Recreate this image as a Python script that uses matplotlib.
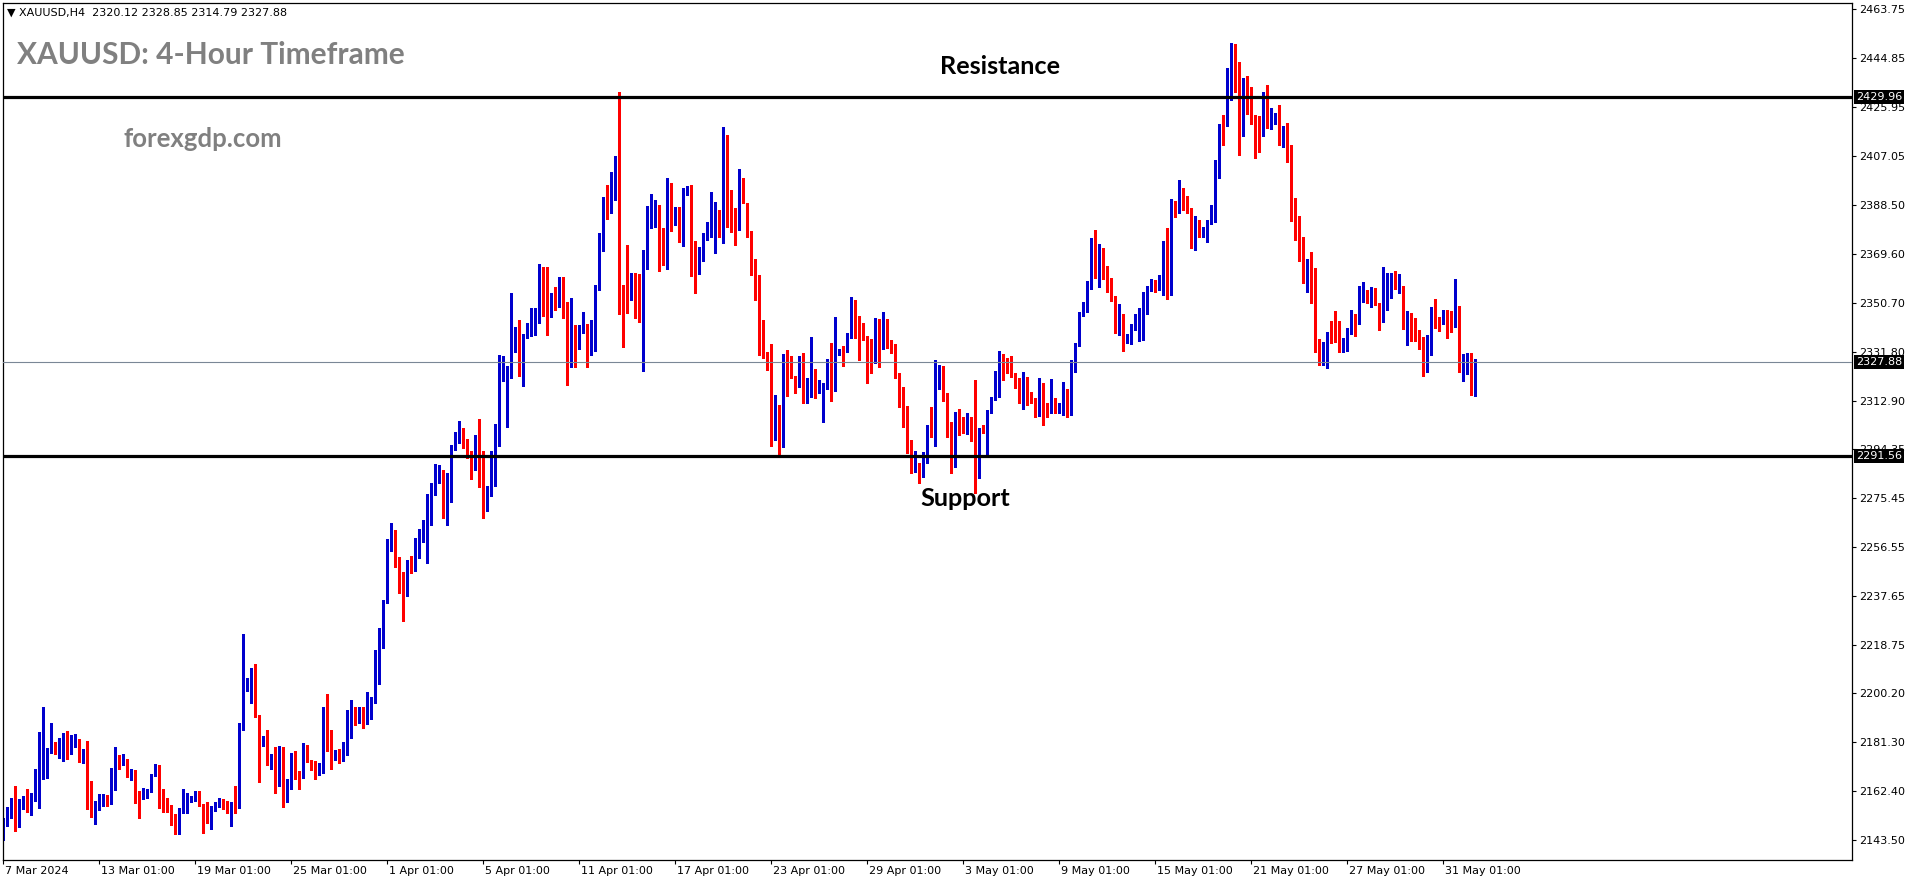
import matplotlib
matplotlib.use('Agg')
import matplotlib.pyplot as plt
import matplotlib.transforms as mtransforms
import numpy as np

# ---- data (XAUUSD H4) ----
opens = [
    2148.6, 2149.7, 2154.8, 2157.4, 2153.2, 2156.1, 2158.9, 2154.8, 2160.5, 2167.9,
    2170.2, 2173.7, 2179.1, 2179.9, 2177.6, 2179.7, 2181.3, 2179.1, 2181.4, 2182.4,
    2175.6, 2176.7, 2160.1, 2154.4, 2157.0, 2157.9, 2159.7, 2157.7, 2165.6, 2174.3,
    2174.1, 2174.3, 2168.2, 2169.8, 2162.0, 2159.4, 2161.6, 2162.1, 2168.6, 2171.7,
    2159.7, 2156.6, 2152.0, 2152.0, 2146.1, 2154.0, 2156.0, 2159.2, 2159.4, 2159.9,
    2157.4, 2152.8, 2150.6, 2156.4, 2157.1, 2158.2, 2157.0, 2154.0, 2157.4, 2156.0,
    2186.3, 2204.3, 2204.2, 2205.2, 2191.7, 2180.8, 2181.3, 2172.9, 2177.7, 2166.0,
    2177.8, 2158.7, 2165.4, 2174.7, 2169.2, 2167.8, 2177.0, 2174.3, 2171.1, 2168.7,
    2172.2, 2190.5, 2182.7, 2176.0, 2177.4, 2174.3, 2176.4, 2188.7, 2193.2, 2189.8,
    2191.9, 2188.5, 2196.8, 2196.8, 2206.5, 2221.4, 2243.7, 2256.5, 2261.5, 2251.7,
    2246.4, 2238.9, 2250.7, 2248.4, 2253.3, 2260.2, 2265.0, 2265.3, 2280.4, 2282.6,
    2286.2, 2271.6, 2275.5, 2294.8, 2299.5, 2301.2, 2295.4, 2293.2, 2287.4, 2294.3,
    2292.0, 2271.6, 2279.7, 2291.6, 2299.3, 2326.0, 2322.1, 2324.1, 2334.7, 2337.8,
    2327.3, 2338.1, 2338.2, 2339.9, 2345.0, 2363.5, 2355.5, 2347.2, 2352.7, 2349.4,
    2357.9, 2347.8, 2334.0, 2337.8, 2333.3, 2340.4, 2342.1, 2330.5, 2343.3, 2356.2,
    2371.0, 2391.1, 2387.7, 2398.5, 2404.9, 2355.5, 2358.4, 2355.5, 2361.3, 2349.8,
    2348.5, 2365.6, 2382.3, 2383.8, 2386.8, 2372.6, 2366.5, 2385.1, 2382.8, 2384.9,
    2377.7, 2392.3, 2393.7, 2372.9, 2362.0, 2367.1, 2377.0, 2379.7, 2379.6, 2385.4,
    2378.7, 2409.9, 2381.9, 2381.5, 2378.7, 2394.1, 2388.8, 2378.3, 2366.1, 2361.3,
    2338.6, 2330.1, 2327.9, 2298.8, 2308.4, 2295.4, 2329.9, 2326.6, 2322.4, 2318.3,
    2328.8, 2315.1, 2321.5, 2324.7, 2316.0, 2319.2, 2319.3, 2325.0, 2318.9, 2332.2,
    2332.8, 2332.2, 2337.8, 2349.8, 2341.7, 2338.9, 2337.6, 2331.2, 2330.3, 2343.6,
    2334.1, 2342.4, 2335.5, 2334.4, 2323.2, 2315.1, 2307.8, 2295.8, 2286.2, 2288.1,
    2287.1, 2291.3, 2303.3, 2299.7, 2320.9, 2324.3, 2315.1, 2302.0, 2292.0, 2308.3,
    2304.4, 2302.5, 2306.1, 2301.6, 2289.4, 2302.4, 2304.4, 2308.3, 2313.4, 2320.9,
    2328.2, 2324.7, 2324.3, 2322.8, 2321.8, 2313.5, 2318.5, 2314.4, 2313.8, 2307.4,
    2317.9, 2311.0, 2309.7, 2314.0, 2308.7, 2308.7, 2316.8, 2307.4, 2324.5, 2334.7,
    2346.0, 2350.4, 2357.1, 2372.9, 2367.4, 2369.9, 2362.0, 2359.4, 2353.0, 2340.1,
    2344.4, 2335.9, 2335.6, 2342.1, 2345.0, 2345.9, 2353.6, 2355.8, 2357.9, 2357.5,
    2358.1, 2369.7, 2357.9, 2389.4, 2386.4, 2392.2, 2390.5, 2386.0, 2375.1, 2381.9,
    2376.8, 2378.3, 2381.3, 2382.5, 2401.8, 2414.7, 2419.2, 2435.2, 2450.0, 2442.3,
    2420.4, 2435.9, 2427.2, 2420.7, 2417.2, 2416.6, 2428.4, 2420.1, 2421.6, 2422.6,
    2417.4, 2418.0, 2411.2, 2388.7, 2379.7, 2373.5, 2359.8, 2364.6, 2359.2, 2332.4,
    2328.9, 2333.7, 2338.8, 2337.8, 2337.4, 2332.4, 2337.3, 2339.5, 2344.0, 2343.3,
    2354.9, 2355.2, 2351.4, 2355.2, 2350.4, 2343.7, 2354.9, 2356.8, 2361.3, 2356.6,
    2357.1, 2345.5, 2345.9, 2344.0, 2337.8, 2334.3, 2324.7, 2332.8, 2348.9, 2344.6,
    2344.0, 2346.6, 2342.4, 2342.1, 2348.1, 2326.0, 2328.2, 2330.9, 2320.12,
]
highs = [
    2151.9, 2156.4, 2159.6, 2164.3, 2159.2, 2160.5, 2163.2, 2161.5, 2170.7, 2185.1,
    2194.8, 2178.8, 2188.6, 2181.3, 2182.7, 2184.6, 2185.5, 2184.0, 2184.5, 2182.6,
    2178.5, 2181.7, 2166.3, 2158.5, 2161.1, 2161.2, 2161.0, 2171.1, 2179.4, 2176.3,
    2176.8, 2174.7, 2170.7, 2170.5, 2162.5, 2163.6, 2163.3, 2169.1, 2172.7, 2172.4,
    2163.3, 2159.7, 2156.9, 2153.4, 2155.7, 2163.2, 2161.5, 2160.6, 2162.3, 2162.4,
    2157.5, 2158.2, 2156.8, 2158.0, 2159.7, 2159.3, 2158.7, 2158.2, 2164.3, 2188.7,
    2222.9, 2206.1, 2209.8, 2211.4, 2191.8, 2183.6, 2185.9, 2176.7, 2179.5, 2179.7,
    2179.5, 2167.2, 2176.9, 2177.9, 2170.2, 2181.0, 2180.1, 2174.4, 2173.9, 2173.2,
    2194.8, 2199.8, 2185.9, 2178.3, 2178.6, 2181.3, 2193.6, 2197.5, 2194.8, 2194.9,
    2194.6, 2200.4, 2198.8, 2216.8, 2225.2, 2236.0, 2259.5, 2265.6, 2263.0, 2252.5,
    2247.0, 2251.5, 2253.0, 2259.8, 2263.3, 2266.9, 2276.9, 2281.3, 2288.5, 2288.1,
    2286.3, 2284.9, 2295.8, 2300.9, 2305.0, 2302.2, 2298.0, 2293.6, 2299.6, 2305.8,
    2293.5, 2280.1, 2293.6, 2303.9, 2330.5, 2330.1, 2326.3, 2354.3, 2341.4, 2344.0,
    2338.5, 2342.7, 2348.5, 2348.5, 2365.6, 2364.5, 2364.3, 2354.3, 2356.6, 2360.7,
    2360.4, 2351.0, 2352.3, 2342.1, 2342.1, 2347.2, 2342.4, 2344.0, 2357.5, 2377.7,
    2391.5, 2396.0, 2401.2, 2407.2, 2432.0, 2357.5, 2372.9, 2362.0, 2362.0, 2361.7,
    2371.0, 2387.9, 2392.5, 2390.2, 2388.3, 2379.4, 2398.9, 2396.9, 2387.7, 2387.4,
    2395.0, 2395.6, 2396.0, 2374.4, 2372.3, 2377.7, 2381.9, 2393.5, 2389.6, 2386.4,
    2418.5, 2415.3, 2394.1, 2387.0, 2402.2, 2398.9, 2389.2, 2378.4, 2367.5, 2361.4,
    2344.0, 2331.8, 2334.6, 2315.1, 2311.2, 2330.8, 2332.4, 2330.1, 2322.5, 2330.1,
    2331.1, 2321.8, 2337.3, 2325.0, 2320.9, 2319.8, 2328.8, 2335.0, 2345.3, 2332.7,
    2333.9, 2339.1, 2352.7, 2351.7, 2345.5, 2342.7, 2337.7, 2336.5, 2344.9, 2344.3,
    2346.9, 2344.3, 2336.3, 2334.8, 2323.4, 2318.3, 2311.0, 2297.7, 2293.5, 2288.7,
    2293.0, 2303.5, 2310.6, 2328.6, 2326.6, 2326.2, 2315.7, 2304.8, 2308.7, 2309.6,
    2306.5, 2308.0, 2306.7, 2320.9, 2302.2, 2303.5, 2309.3, 2314.4, 2324.3, 2332.0,
    2330.9, 2329.2, 2330.1, 2323.7, 2321.8, 2323.8, 2322.2, 2316.4, 2313.9, 2321.8,
    2319.8, 2312.1, 2321.2, 2314.0, 2311.9, 2320.2, 2317.4, 2328.6, 2335.1, 2347.2,
    2351.0, 2359.2, 2375.5, 2378.7, 2373.3, 2371.6, 2364.8, 2360.1, 2353.1, 2350.2,
    2346.2, 2338.6, 2342.4, 2346.3, 2348.5, 2354.9, 2357.1, 2359.9, 2359.4, 2361.3,
    2374.6, 2379.3, 2390.5, 2389.9, 2398.0, 2394.7, 2391.8, 2387.0, 2384.1, 2382.5,
    2380.0, 2382.5, 2388.3, 2405.7, 2419.5, 2423.0, 2441.3, 2450.9, 2450.4, 2443.6,
    2437.4, 2438.0, 2433.9, 2423.0, 2422.6, 2432.0, 2434.6, 2425.6, 2423.9, 2426.9,
    2418.8, 2419.8, 2411.4, 2390.9, 2384.1, 2376.1, 2367.4, 2370.1, 2364.2, 2336.5,
    2335.4, 2339.5, 2343.7, 2347.6, 2343.7, 2337.0, 2340.8, 2347.8, 2346.3, 2357.1,
    2358.6, 2355.6, 2356.6, 2356.2, 2350.7, 2364.3, 2362.2, 2362.0, 2362.9, 2361.7,
    2357.2, 2347.5, 2346.5, 2344.6, 2340.1, 2337.6, 2338.2, 2349.1, 2352.1, 2345.0,
    2347.8, 2347.8, 2347.5, 2359.8, 2349.4, 2330.9, 2331.4, 2331.4, 2328.85,
]
lows = [
    2143.5, 2148.9, 2151.9, 2147.1, 2148.6, 2155.3, 2154.4, 2153.2, 2158.7, 2156.0,
    2167.1, 2167.5, 2176.9, 2176.5, 2175.2, 2174.1, 2174.7, 2176.5, 2179.5, 2173.7,
    2173.1, 2155.5, 2152.2, 2149.7, 2155.2, 2156.6, 2156.7, 2157.4, 2162.8, 2170.9,
    2172.4, 2167.8, 2166.6, 2157.9, 2152.0, 2159.2, 2159.6, 2161.9, 2168.2, 2156.0,
    2154.4, 2154.4, 2149.3, 2145.7, 2145.8, 2154.0, 2153.9, 2158.3, 2158.7, 2156.7,
    2146.3, 2149.9, 2147.9, 2154.8, 2156.1, 2155.3, 2153.9, 2149.0, 2154.0, 2155.9,
    2185.9, 2201.1, 2196.5, 2191.1, 2166.0, 2179.9, 2172.4, 2171.0, 2161.8, 2164.5,
    2156.4, 2158.3, 2163.2, 2166.9, 2163.0, 2167.4, 2173.6, 2170.5, 2166.9, 2168.6,
    2169.2, 2177.9, 2170.9, 2174.3, 2173.1, 2174.1, 2176.2, 2183.0, 2187.8, 2188.5,
    2186.8, 2188.2, 2190.3, 2196.2, 2203.7, 2217.5, 2234.7, 2255.0, 2248.9, 2238.9,
    2228.1, 2237.7, 2246.3, 2247.4, 2252.1, 2258.5, 2250.4, 2265.0, 2276.5, 2281.0,
    2267.5, 2265.0, 2274.0, 2293.9, 2296.5, 2294.5, 2290.7, 2282.6, 2286.2, 2279.7,
    2267.5, 2270.5, 2276.1, 2280.0, 2295.4, 2320.5, 2302.9, 2321.8, 2331.8, 2322.4,
    2318.5, 2336.9, 2337.8, 2338.2, 2343.0, 2345.5, 2338.2, 2345.0, 2347.8, 2349.1,
    2344.9, 2318.9, 2325.7, 2326.0, 2332.7, 2338.8, 2325.7, 2330.4, 2332.2, 2355.5,
    2370.6, 2382.8, 2385.1, 2390.2, 2346.3, 2333.7, 2346.6, 2351.7, 2344.6, 2343.3,
    2324.3, 2363.5, 2379.3, 2379.7, 2363.0, 2365.2, 2363.8, 2378.4, 2380.6, 2373.9,
    2372.6, 2392.2, 2360.9, 2354.5, 2361.7, 2366.7, 2374.8, 2376.1, 2369.7, 2376.1,
    2373.8, 2380.0, 2378.1, 2372.9, 2378.6, 2389.0, 2376.1, 2361.3, 2351.7, 2330.5,
    2329.2, 2324.7, 2295.4, 2297.7, 2292.0, 2295.2, 2314.7, 2321.5, 2316.0, 2318.2,
    2311.9, 2312.1, 2314.4, 2313.8, 2315.7, 2304.8, 2317.3, 2312.9, 2316.8, 2330.5,
    2326.4, 2331.8, 2336.9, 2336.9, 2328.6, 2336.3, 2319.8, 2323.7, 2327.5, 2325.7,
    2332.7, 2333.1, 2331.4, 2321.8, 2310.6, 2302.9, 2292.6, 2284.9, 2285.5, 2281.3,
    2283.3, 2288.7, 2298.8, 2295.5, 2317.4, 2312.9, 2298.8, 2285.1, 2287.5, 2299.7,
    2300.3, 2300.0, 2297.5, 2277.2, 2282.9, 2300.3, 2291.6, 2308.0, 2313.1, 2314.4,
    2320.9, 2323.4, 2322.2, 2317.7, 2311.9, 2309.7, 2311.2, 2311.9, 2306.5, 2307.0,
    2303.5, 2306.7, 2308.0, 2308.3, 2308.0, 2307.4, 2306.5, 2307.3, 2324.1, 2334.1,
    2345.6, 2347.2, 2355.8, 2360.1, 2356.6, 2359.7, 2354.9, 2351.4, 2338.9, 2338.2,
    2332.2, 2335.2, 2334.7, 2340.1, 2336.0, 2336.3, 2346.3, 2355.3, 2354.9, 2355.5,
    2353.6, 2352.0, 2353.6, 2383.8, 2385.4, 2386.4, 2385.1, 2371.6, 2371.0, 2376.1,
    2376.1, 2374.2, 2381.0, 2381.9, 2398.6, 2411.4, 2418.8, 2428.8, 2432.0, 2407.6,
    2414.9, 2423.4, 2419.5, 2406.3, 2408.9, 2414.9, 2417.9, 2417.6, 2419.5, 2411.4,
    2410.8, 2405.0, 2382.3, 2374.8, 2366.9, 2358.4, 2354.9, 2350.7, 2331.8, 2326.6,
    2326.6, 2325.4, 2335.3, 2335.6, 2331.8, 2331.8, 2332.2, 2338.6, 2337.8, 2342.4,
    2351.1, 2350.7, 2349.1, 2349.8, 2340.1, 2343.3, 2347.8, 2352.3, 2355.8, 2354.5,
    2340.4, 2334.3, 2335.9, 2335.9, 2332.8, 2322.5, 2324.1, 2330.5, 2340.8, 2339.9,
    2342.3, 2337.2, 2339.5, 2341.4, 2324.1, 2320.6, 2323.2, 2315.1, 2314.79,
]
closes = [
    2150.6, 2155.1, 2157.4, 2153.2, 2156.6, 2159.4, 2154.8, 2160.9, 2168.2, 2170.5,
    2173.9, 2178.3, 2179.6, 2177.4, 2180.0, 2181.3, 2179.1, 2182.4, 2182.4, 2175.6,
    2176.7, 2159.8, 2154.4, 2157.8, 2158.2, 2159.7, 2157.8, 2165.9, 2173.9, 2173.6,
    2174.3, 2168.2, 2169.7, 2161.8, 2159.4, 2161.6, 2162.4, 2168.6, 2171.8, 2159.4,
    2156.0, 2155.1, 2151.7, 2146.3, 2154.3, 2156.2, 2159.7, 2159.8, 2159.9, 2156.9,
    2152.5, 2150.6, 2156.7, 2157.0, 2158.2, 2156.7, 2154.0, 2157.4, 2156.4, 2185.9,
    2204.4, 2204.8, 2205.2, 2191.4, 2180.3, 2181.0, 2173.1, 2174.1, 2166.0, 2177.8,
    2158.7, 2164.7, 2174.7, 2169.1, 2167.8, 2176.7, 2173.8, 2170.9, 2168.7, 2172.4,
    2190.5, 2182.6, 2176.0, 2178.2, 2174.3, 2176.7, 2189.0, 2193.2, 2189.8, 2194.4,
    2190.3, 2197.1, 2197.5, 2206.7, 2221.6, 2232.6, 2256.5, 2261.5, 2251.5, 2246.1,
    2238.9, 2251.1, 2248.4, 2253.3, 2260.7, 2265.6, 2265.9, 2280.4, 2282.7, 2286.2,
    2271.6, 2275.0, 2295.2, 2299.6, 2301.2, 2295.2, 2293.2, 2287.4, 2294.3, 2290.7,
    2271.6, 2279.7, 2292.0, 2300.0, 2326.3, 2329.2, 2324.3, 2334.7, 2337.8, 2327.5,
    2338.1, 2338.8, 2340.1, 2345.0, 2363.5, 2355.3, 2347.2, 2352.5, 2349.4, 2357.9,
    2347.6, 2334.0, 2337.8, 2333.3, 2340.8, 2342.1, 2330.5, 2343.6, 2356.6, 2372.5,
    2391.1, 2387.7, 2398.6, 2404.6, 2355.3, 2344.2, 2355.5, 2361.3, 2349.4, 2348.5,
    2365.8, 2383.4, 2384.1, 2386.8, 2372.3, 2366.5, 2385.1, 2383.0, 2384.9, 2377.7,
    2392.5, 2393.7, 2372.3, 2360.9, 2367.4, 2377.1, 2380.0, 2380.0, 2385.4, 2378.9,
    2409.9, 2381.5, 2381.3, 2378.7, 2394.1, 2390.8, 2378.1, 2365.8, 2361.3, 2338.2,
    2329.9, 2327.3, 2298.8, 2308.4, 2295.4, 2329.9, 2326.6, 2322.1, 2318.3, 2328.8,
    2315.1, 2321.5, 2324.7, 2316.0, 2319.3, 2319.6, 2325.0, 2319.3, 2332.4, 2332.4,
    2332.2, 2338.2, 2349.8, 2341.4, 2338.2, 2337.6, 2330.9, 2330.3, 2343.6, 2334.1,
    2342.4, 2335.4, 2334.1, 2322.8, 2314.8, 2307.4, 2295.8, 2285.9, 2288.1, 2287.5,
    2291.3, 2303.3, 2299.7, 2319.8, 2324.3, 2314.8, 2301.8, 2292.0, 2308.3, 2303.3,
    2302.5, 2306.1, 2301.3, 2289.4, 2301.8, 2301.3, 2308.4, 2313.4, 2321.2, 2328.2,
    2324.5, 2323.7, 2322.4, 2321.5, 2313.5, 2318.5, 2314.2, 2313.5, 2307.4, 2317.9,
    2309.9, 2309.7, 2314.0, 2308.7, 2309.9, 2317.0, 2307.4, 2324.7, 2335.0, 2346.3,
    2350.4, 2357.5, 2372.9, 2367.1, 2369.9, 2360.1, 2359.2, 2352.3, 2340.1, 2344.4,
    2335.9, 2336.3, 2342.1, 2345.3, 2345.9, 2354.0, 2356.4, 2358.4, 2357.5, 2359.2,
    2369.4, 2357.9, 2389.4, 2385.7, 2392.2, 2390.2, 2385.5, 2375.2, 2381.9, 2376.8,
    2378.7, 2381.6, 2382.8, 2402.2, 2414.7, 2413.8, 2435.5, 2450.3, 2441.9, 2420.4,
    2435.9, 2426.5, 2420.8, 2416.6, 2416.6, 2428.4, 2420.1, 2421.6, 2422.6, 2417.2,
    2417.6, 2411.8, 2388.3, 2378.7, 2372.9, 2359.8, 2364.3, 2358.8, 2332.0, 2327.9,
    2334.0, 2338.8, 2337.6, 2337.3, 2332.4, 2334.0, 2339.8, 2344.0, 2343.3, 2355.2,
    2355.2, 2351.1, 2355.2, 2350.4, 2343.7, 2355.2, 2357.1, 2361.3, 2356.6, 2357.1,
    2345.6, 2345.9, 2343.7, 2337.8, 2334.0, 2324.7, 2333.1, 2348.9, 2344.4, 2343.0,
    2346.6, 2342.4, 2342.1, 2348.1, 2326.0, 2327.3, 2330.9, 2320.2, 2327.88,
]

RESISTANCE = 2429.96
SUPPORT    = 2291.56
Y_TICKS = [2463.75, 2444.85, 2425.95, 2407.05, 2388.50, 2369.60, 2350.70, 2331.80, 2312.90,
           2294.35, 2275.45, 2256.55, 2237.65, 2218.75, 2200.20, 2181.30, 2162.40, 2143.50]
X_LABELS = ['7 Mar 2024', '13 Mar 01:00', '19 Mar 01:00', '25 Mar 01:00', '1 Apr 01:00',
            '5 Apr 01:00', '11 Apr 01:00', '17 Apr 01:00', '23 Apr 01:00', '29 Apr 01:00',
            '3 May 01:00', '9 May 01:00', '15 May 01:00', '21 May 01:00', '27 May 01:00',
            '31 May 01:00']
BARS_PER_LABEL = 24

BLUE = '#0000CD'
RED  = '#FF0000'
GRAY = '#808080'

W, H, DPI = 1916, 884, 100
fig = plt.figure(figsize=(W / DPI, H / DPI), dpi=DPI)
fig.patch.set_facecolor('white')
# plot frame: x 2.5..1852, y 2.5..860 (pixels from top-left)
ax = fig.add_axes([2.5 / W, 24 / H, 1849.5 / W, 857.5 / H])

o = np.array(opens); h = np.array(highs); l = np.array(lows); c = np.array(closes)
x = np.arange(len(c))
cols = np.where(c >= o, BLUE, RED)

ax.vlines(x, l, h, colors=cols, linewidth=0.75, antialiased=False, zorder=2)
ax.bar(x, np.maximum(np.abs(c - o), 0.35), bottom=np.minimum(o, c), width=0.8,
       color=cols, linewidth=0, antialiased=False, zorder=2)

ax.axhline(RESISTANCE, color='black', lw=2.3, zorder=4)
ax.axhline(SUPPORT, color='black', lw=2.3, zorder=4)
ax.axhline(c[-1], color='#7A8796', lw=0.8, zorder=3)

ax.set_xlim(-0.2, 462.2)
ax.set_ylim(2135.8, 2466.4)

# right price scale
ax.yaxis.tick_right()
ax.set_yticks(Y_TICKS)
ax.set_yticklabels([f'{v:.2f}' for v in Y_TICKS])
ax.tick_params(axis='y', which='both', right=True, left=False, length=3, width=0.8,
               pad=2, labelsize=8, colors='black')

# time scale
xt = np.arange(len(X_LABELS)) * BARS_PER_LABEL
ax.set_xticks(xt)
ax.set_xticklabels(X_LABELS, ha='left')
ax.tick_params(axis='x', length=3, width=0.8, pad=1, labelsize=8)
shift = mtransforms.ScaledTranslation(2 / DPI, 0, fig.dpi_scale_trans)
for lbl in ax.get_xticklabels():
    lbl.set_transform(lbl.get_transform() + shift)

for sp in ax.spines.values():
    sp.set_color('black')
    sp.set_linewidth(0.9)

# boxed price labels on the scale
blend = mtransforms.blended_transform_factory(ax.transAxes, ax.transData)
for v in [RESISTANCE, c[-1], SUPPORT]:
    ax.text(1.0 + 4 / 1849.5, v, f'{v:.2f}', transform=blend, color='white', fontsize=8,
            va='center', ha='left', clip_on=False, zorder=10,
            bbox=dict(boxstyle='square,pad=0.2', fc='black', ec='none'))

# annotations
fig.text(7 / W, 1 - 13 / H, f'\u25BC XAUUSD,H4  {o[-1]:.2f} {h[-1]:.2f} {l[-1]:.2f} {c[-1]:.2f}',
         fontsize=8, va='center', ha='left', color='black')
fig.text(17 / W, 1 - 55 / H, 'XAUUSD: 4-Hour Timeframe', fontsize=21.5, fontweight='bold',
         family='Lato', color=GRAY, va='center', ha='left')
fig.text(123 / W, 1 - 139 / H, 'forexgdp.com', fontsize=18.5, fontweight='bold',
         family='Lato', color=GRAY, va='center', ha='left')
ax.text(249.2, 2441.9, 'Resistance', fontsize=18.2, fontweight='bold', family='Lato',
        color='black', ha='center', va='center', zorder=6)
ax.text(240.4, 2275.0, 'Support', fontsize=18.2, fontweight='bold', family='Lato',
        color='black', ha='center', va='center', zorder=6)

fig.savefig('out.png', dpi=DPI, facecolor='white')
